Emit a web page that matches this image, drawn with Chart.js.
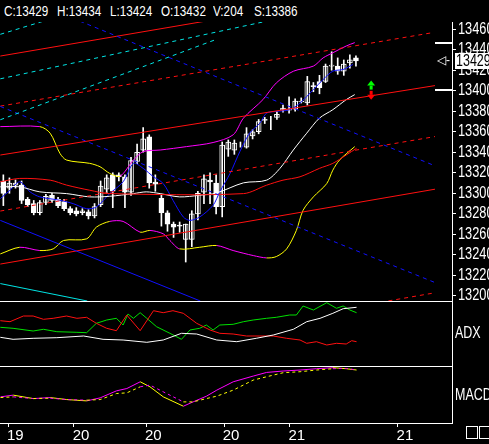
<!DOCTYPE html>
<html><head><meta charset="utf-8">
<script src="https://cdn.jsdelivr.net/npm/chart.js@4/dist/chart.umd.min.js"></script>
<style>
body{margin:0;background:#000;width:489px;height:444px;overflow:hidden;position:relative;font-family:"Liberation Sans",Arial,sans-serif;color:#fff}
canvas{position:absolute;left:0}
.t{position:absolute;font-size:15px;white-space:nowrap;transform:scaleX(0.78);transform-origin:0 0}
.l{position:absolute;background:#fff}
</style></head><body>
<div class="t" style="left:4px;top:2px">C:13429</div>
<div class="t" style="left:57px;top:2px">H:13434</div>
<div class="t" style="left:110px;top:2px">L:13424</div>
<div class="t" style="left:161px;top:2px">O:13432</div>
<div class="t" style="left:213px;top:2px">V:204</div>
<div class="t" style="left:254px;top:2px">S:13386</div>
<canvas id="main" width="489" height="279" style="top:22px"></canvas>
<canvas id="adx" width="489" height="65" style="top:301px"></canvas>
<canvas id="macd" width="489" height="78" style="top:366px"></canvas>
<div class="l" style="left:0;top:301px;width:452px;height:1px"></div>
<div class="l" style="left:0;top:366px;width:452px;height:1px"></div>
<div class="l" style="left:452px;top:22px;width:1px;height:401px"></div>
<div class="t" style="left:455px;top:324px;font-size:16px">ADX</div>
<div class="t" style="left:455px;top:386px;font-size:16px">MACD</div>
<div style="position:absolute;left:466px;top:426px;width:10px;height:11px;border:1px solid #fff"></div>
<div style="position:absolute;left:479px;top:426px;width:10px;height:11px;border:1px solid #fff"></div>
<div style="position:absolute;left:455px;top:53px;width:34px;height:16px;background:#fff"></div>
<div class="t" style="left:456px;top:52px;color:#000;font-size:16px">13429</div>
<div class="t" style="left:437px;top:53px;font-size:12px;transform:none">◁-</div>
<script>
// ---- candles ----
const opens  =[13312,13305,13308,13308,13294,13290,13281,13291,13298,13294,13292,13285,13283,13281,13282,13278,13289,13304,13318,13318,13316,13301,13331,13342,13355,13311,13295,13281,13270,13269,13255,13255,13280,13301,13313,13310,13287,13343,13342,13348,13345,13356,13360,13371,13373,13374,13381,13381,13382,13389,13388,13405,13409,13409,13424,13424,13419,13427,13432];
const closes =[13300,13310,13310,13293,13289,13281,13291,13297,13293,13288,13285,13281,13280,13283,13278,13287,13307,13315,13302,13316,13301,13332,13340,13353,13310,13309,13281,13270,13267,13268,13270,13280,13300,13314,13311,13287,13347,13350,13349,13348,13358,13360,13370,13372,13373,13377,13383,13382,13390,13390,13409,13404,13403,13424,13425,13419,13426,13430,13429];
const highs  =[13318,13315,13313,13312,13296,13293,13293,13299,13300,13296,13294,13287,13286,13285,13284,13290,13312,13318,13320,13320,13318,13335,13348,13364,13357,13318,13298,13283,13272,13272,13270,13283,13302,13318,13320,13318,13350,13352,13352,13350,13364,13362,13372,13374,13375,13380,13386,13394,13392,13393,13414,13408,13415,13426,13438,13432,13430,13435,13434];
const lows   =[13288,13300,13305,13290,13287,13279,13279,13289,13291,13286,13283,13279,13278,13279,13275,13276,13287,13300,13286,13312,13286,13298,13329,13340,13305,13302,13268,13263,13257,13262,13233,13248,13274,13290,13290,13280,13277,13336,13338,13345,13344,13353,13358,13368,13362,13372,13379,13378,13380,13388,13386,13399,13397,13408,13420,13416,13415,13422,13424];
// ---- overlays (x = bar index, y = price) ----
const upperX=[-0.5,6,7.7,9.3,10.4,14.2,15.9,17.5,19.2,21.4,23,25.8,30.1,34.5,37.8,39.5,42.7,44.9,47.7,51,52.6,54.2,56.4,57.8];
const upperY=[13365,13365,13358.6,13339,13332.4,13329.2,13325.9,13319.4,13316.7,13332.4,13340.6,13342.2,13345.5,13349.5,13357,13373.3,13391.3,13407.6,13419,13424,13432,13437,13443.6,13446.9];
const lowerX=[-0.5,2.7,6,8.2,9.9,13.7,15.3,17.5,19.7,22.5,24.1,26.3,27.4,29,32.3,35.1,37.8,41.1,43.3,44.9,46.6,48.2,49.3,51,53.2,54.2,55.3,57.8];
const lowerY=[13240.9,13247.4,13244.2,13245.8,13254,13255.6,13267,13272.6,13272.6,13262.1,13263.8,13260.5,13254,13245.8,13247.4,13249.1,13244.2,13239.3,13237,13238.3,13245.8,13263.8,13283.4,13296.5,13309.5,13322.6,13332.4,13345.5];
const midX=[-0.5,2.7,6,10.4,14.2,17.5,21.4,23.5,25.8,29,32.3,35.1,39.5,43.3,45.5,47.7,49.9,52,54.2,56.4,57.8];
const midY=[13306.3,13306.3,13301.4,13299.7,13296.5,13297.1,13299.7,13301.4,13299.7,13296.5,13298.1,13300.4,13310.2,13312.8,13324.3,13342.2,13358.6,13373.3,13381.5,13391.3,13396.2];
const emaX=[-0.5,1.1,2.7,4.4,6,9.3,11.5,13.7,15.3,17.5,19.7,21.4,23,24.7,26.3,27.9,29.6,30.7,32.3,34.5,35.6,37.3,38.9,40.5,42.2,43.3,44.9,47.1,48.8,51,52.6,54.2,55.9,57.5];
const emaY=[13294.8,13303,13311.2,13301.4,13296.5,13293.2,13289.9,13285,13286.7,13299.7,13311.2,13329.2,13324.3,13316.1,13309.5,13293.2,13276.9,13273.6,13276.9,13288.3,13301.4,13319.4,13340.6,13358.6,13368.4,13378.2,13379.8,13381.5,13388,13401.1,13410.9,13419.1,13420.7,13425.6];
const maX=[-0.5,2.7,7.7,10.4,14.2,17.5,39.5,43.3,46,48.8,52,54.2,56.4,58.1];
const maY=[13311.2,13314.5,13312.8,13308,13303,13299.7,13299.7,13307.9,13312.8,13316.1,13324.3,13329.2,13337.3,13343.9];
// trend lines: [x1,y1,x2,y2]
const redSolid=[[-0.5,13433.8,33.2,13467.8],[-0.5,13337.3,71,13405],[-0.5,13231,71,13304]];
const redDash=[[-0.5,13385,70.7,13456.7],[-0.5,13282.7,71,13355.3],[40,13171,71,13203]];
const blueDash=[[12.6,13467.8,70.7,13327.5],[-0.5,13384.7,71,13213]];
const blueSolid=[[-0.5,13273.6,32.4,13195]];
const cyanSolid=[[-0.5,13212,13.8,13195]];
const cyanDash=[[-0.5,13455,6.6,13467.8],[-0.5,13411.6,43.3,13467.8],[-0.5,13371.7,35.1,13450.2]];
const priceTicks=[13200,13220,13240,13260,13280,13300,13320,13340,13360,13380,13400,13420,13440,13460];
const markerPrices=[13446.9,13401.1];
// ---- ADX ----
const adxRedX=[-0.5,1.1,3.3,4.9,6.6,8.2,10.4,12.1,13.7,15.3,17,18.6,20.3,22.5,24.7,26.3,27.9,29.6,31.8,34,35.6,37.8,40,42.2,44.4,46.6,48.8,49.9,51.5,53.2,54.8,56.4,57.3,58.1];
const adxRedY=[45.3,44.3,50,50,46.7,47.7,50,47.7,48.7,42.7,37.7,35.3,51,35.3,55.3,53.3,55.3,52.7,42.7,36,32.7,32,30,30,30,27.7,26,22.7,24.3,21,22.7,22,25.3,24.3];
const adxGreenX=[-0.5,1.6,4.9,6.6,8.8,12.1,13.7,15.3,17,18.6,19.7,20.5,21.4,22.5,23.6,25.2,27.4,29.3,30.7,32.3,33.4,34.5,35.6,37.8,39.5,41.1,43.3,44.9,47.1,48.2,49.3,51,53.2,54.8,55.9,57,58.1];
const adxGreenY=[38.7,37.7,35,36.7,34.3,33.7,33.3,42.7,46,47.7,41,52,47.7,53.3,47.7,39.3,32.7,26.7,36,37.7,41,36,41,41.7,44.3,46,47.7,48.7,51,51,60,56,63.3,57.7,60,56,53.3];
const adxWhiteX=[-0.5,1.6,4.9,8.8,13.2,16.4,19.7,23.6,26.3,29.3,31.8,35.1,38.4,41.6,44.4,47.7,49.9,52.1,54.2,55.9,58.1];
const adxWhiteY=[28.7,26.7,27.7,28.3,30,26.7,26,23.7,26,32.7,32,26,24.3,27.7,31,36.7,44.3,47.7,52.7,57.3,58.7];
// ---- MACD ----
const macdX=[-0.5,1.6,4.9,7.7,10.4,13.7,15.9,18.6,20.3,22.5,24.1,26.3,29.6,31.2,33.4,35.1,37.8,41.1,43.3,46,48.8,51.5,54.2,56.4,58.1];
const macdY=[26,27.7,24.3,25.3,23.3,22,25,32,34.3,41,36,26,16.7,21,26.7,32.7,41,46.7,50.3,51.7,52.7,54,55,54,52.7];
const signalY=[25.3,26,24.3,24.7,23.3,22.7,23.3,29.3,30,36,37.7,31,21,21,24.3,26.7,32.7,42.7,46,50,51,52.7,54,54.3,52.7];
const dateTickX=[0.8,11.6,23.5,36.3,47.1,64.9];
const dateLabels=["19","20","20","20","21","21"];

const XMIN=-0.55, XMAX=73.8, FONT='"Liberation Sans", Arial, sans-serif';
const pts=(xs,ys)=>xs.map((x,i)=>({x,y:ys[i]}));
const lineDs=(data,color,extra)=>Object.assign({type:'line',data,borderColor:color,borderWidth:1,pointRadius:0,fill:false,tension:0},extra||{});
const segDs=(arr,color,dash)=>arr.map(s=>lineDs([{x:s[0],y:s[1]},{x:s[2],y:s[3]}],color,dash?{borderDash:[4,4]}:{}));
const rightAxis=(extra)=>Object.assign({position:'right',afterFit(s){s.width=37},grid:{display:false},border:{color:'#fff'}},extra);
const xHidden={type:'linear',min:XMIN,max:XMAX,display:false,offset:false};

const bodies=closes.map((c,i)=>({x:i,y:[opens[i],c]}));
const wicks=closes.map((c,i)=>({x:i,y:[lows[i],highs[i]]}));
const ds=[];
ds.push(...segDs(cyanDash,'#00e5e5',true),...segDs(cyanSolid,'#00e5e5'),...segDs(blueDash,'#1010ff',true),...segDs(blueSolid,'#1010ff'),...segDs(redDash,'#ff1010',true),...segDs(redSolid,'#ff1010'));
ds.push(lineDs(pts(maX,maY),'#ff1010',{tension:0.3}));
ds.push(lineDs(pts(midX,midY),'#ffffff',{tension:0.3}));
ds.push(lineDs(pts(upperX,upperY),'#ff00ff',{tension:0.3,segment:{borderColor:c=>c.p1.parsed.y<c.p0.parsed.y?'#ffff00':'#ff00ff'}}));
ds.push(lineDs(pts(lowerX,lowerY),'#ff00ff',{tension:0.3,segment:{borderColor:c=>c.p1.parsed.y>c.p0.parsed.y?'#ffff00':'#ff00ff'}}));
ds.push(lineDs(pts(emaX,emaY),'#1010ff',{tension:0.3}));
ds.push({type:'bar',data:wicks,backgroundColor:'#fff',barThickness:1,grouped:false});
ds.push({type:'bar',data:bodies,grouped:false,barThickness:5,borderWidth:1,borderSkipped:false,
  backgroundColor:closes.map((c,i)=>c>=opens[i]?'#000':'#fff'),borderColor:'#fff'});

const markers={id:'markers',afterDatasetsDraw(ch){
  const c=ch.ctx,x=ch.scales.x,y=ch.scales.y;
  c.save();c.fillStyle='#fff';
  markerPrices.forEach(p=>c.fillRect(435,Math.round(y.getPixelForValue(p))-1,17,2));
  const ax=x.getPixelForValue(60.5);
  let py=y.getPixelForValue(13405);
  c.fillStyle='#00ff00';c.beginPath();c.moveTo(ax,py-5);c.lineTo(ax-4,py);c.lineTo(ax+4,py);c.fill();c.fillRect(ax-1.5,py,3,4);
  py=y.getPixelForValue(13396);
  c.fillStyle='#ff0000';c.beginPath();c.moveTo(ax,py+5);c.lineTo(ax-4,py);c.lineTo(ax+4,py);c.fill();c.fillRect(ax-1.5,py-4,3,4);
  // condensed price labels
  c.fillStyle='#fff';c.font='16px '+FONT;c.textBaseline='middle';
  priceTicks.forEach(v=>{const py=y.getPixelForValue(v);c.save();c.translate(458,py);c.scale(0.8,1);c.fillText(String(v),0,0);c.restore();});
  c.restore();
}};

const common={responsive:false,animation:false,devicePixelRatio:1,layout:{padding:0},plugins:{legend:{display:false},tooltip:{enabled:false}}};
new Chart(document.getElementById('main'),{data:{datasets:ds},plugins:[markers],options:Object.assign({},common,{
  scales:{x:xHidden,y:rightAxis({min:13195,max:13467,
    afterBuildTicks(s){s.ticks=priceTicks.map(v=>({value:v}))},
    grid:{display:true,drawOnChartArea:false,color:'#fff',tickLength:4},
    ticks:{display:false}})}})});

new Chart(document.getElementById('adx'),{data:{datasets:[
  lineDs(pts(adxWhiteX,adxWhiteY),'#ffffff'),
  lineDs(pts(adxRedX,adxRedY),'#ff1010'),
  lineDs(pts(adxGreenX,adxGreenY),'#00e000')]},
  options:Object.assign({},common,{scales:{x:xHidden,y:rightAxis({min:0,max:65,ticks:{display:false}})}})});

const up=i=>macdY[i+1]>=macdY[i];
new Chart(document.getElementById('macd'),{data:{datasets:[
  lineDs(pts(macdX,signalY),'#ffff00',{borderDash:[3,3],segment:{borderColor:c=>up(c.p0DataIndex)?'#ffff00':'#ff00ff'}}),
  lineDs(pts(macdX,macdY),'#ff00ff',{segment:{borderColor:c=>up(c.p0DataIndex)?'#ff00ff':'#ffff00'}})]},
  options:Object.assign({},common,{scales:{
    x:{type:'linear',min:XMIN,max:XMAX,offset:false,afterFit(s){s.height=21},
      afterBuildTicks(s){s.ticks=dateTickX.map(v=>({value:v}))},
      grid:{drawOnChartArea:false,color:'#fff',tickLength:4},border:{color:'#fff'},
      ticks:{color:'#fff',labelOffset:7,padding:0,maxRotation:0,font:{family:FONT,size:15},callback:(v,i)=>dateLabels[i]}},
    y:rightAxis({min:0,max:56.7,ticks:{display:false}})}})});
</script>
</body></html>
